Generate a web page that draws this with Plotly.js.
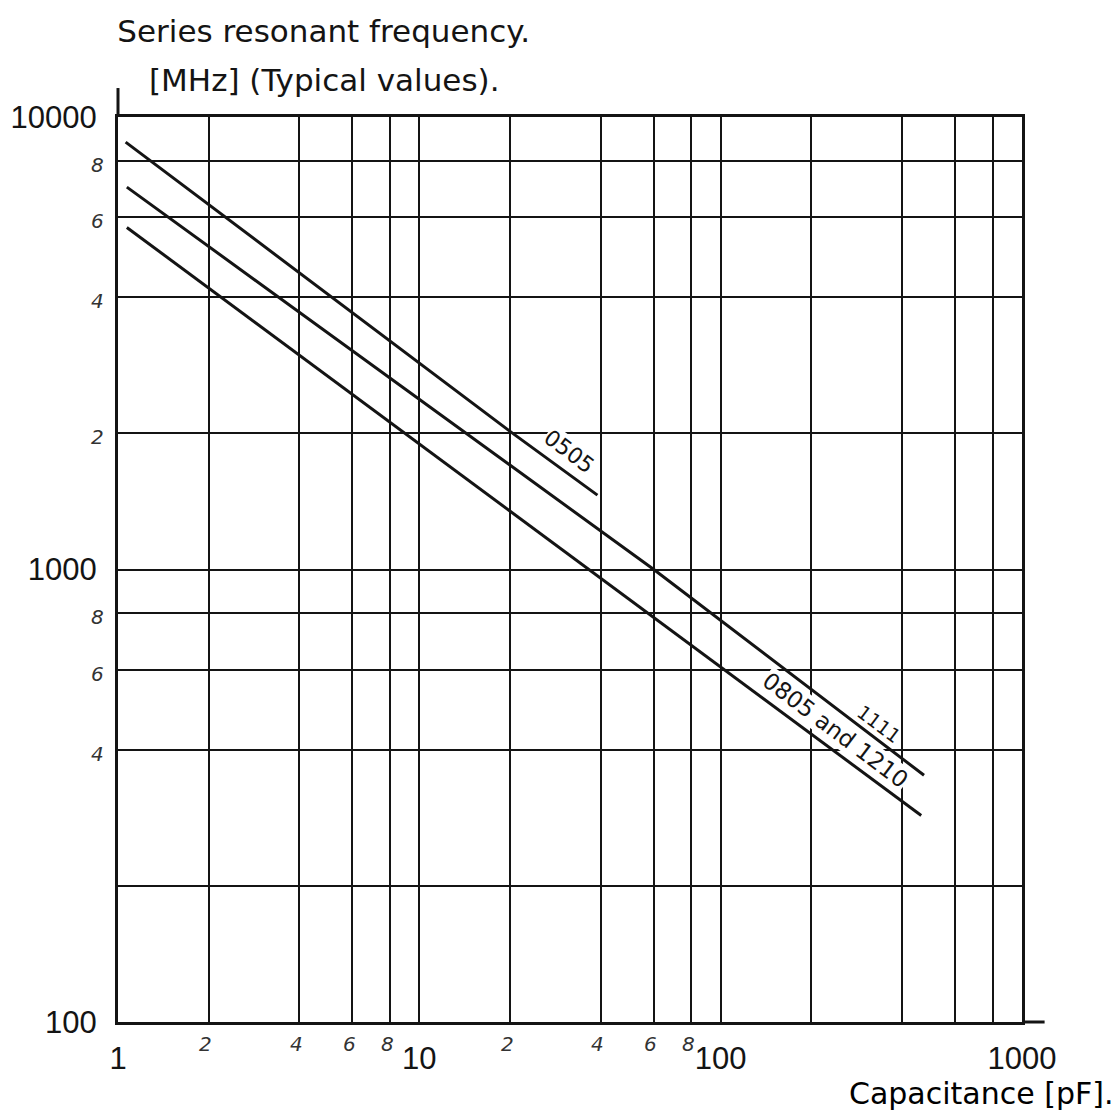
<!DOCTYPE html>
<html>
<head>
<meta charset="utf-8">
<script src="https://cdn.plot.ly/plotly-3.0.1.min.js"></script>
<style>html,body{margin:0;padding:0;background:#fff;}#chart{width:1120px;height:1110px;}</style>
</head>
<body>
<div id="chart"></div>
<script>
// ---- data ----
const seriesNames = ['0505', '1111', '0805 and 1210'];
const cap0505 = [1.06, 20, 39];
const srf0505 = [8800, 2020, 1460];
const cap1111 = [1.07, 60, 473];
const srf1111 = [7000, 1000, 351];
const cap0805 = [1.07, 40, 463];
const srf0805 = [5700, 955, 286];

// ---- axes ----
const xGridVals = [1, 2, 4, 6, 8, 10, 20, 40, 60, 80, 100, 200, 400, 600, 800, 1000];
const xMajorVals = [1, 10, 100, 1000];
const xMajorText = ['1', '10', '100', '1000'];
const xMinorVals = [2, 4, 6, 8, 20, 40, 60, 80];
const xMinorText = ['2', '4', '6', '8', '2', '4', '6', '8'];

const yGridVals = [100, 200, 400, 600, 800, 1000, 2000, 4000, 6000, 8000, 10000];
const yMajorVals = [100, 1000, 10000];
const yMajorText = ['100', '1000', '10000'];
const yMinorVals = [8000, 6000, 4000, 2000, 800, 600, 400];
const yMinorText = ['8', '6', '4', '2', '8', '6', '4'];

const titleLine1 = 'Series resonant frequency.';
const titleLine2 = '[MHz] (Typical values).';
const xTitle = 'Capacitance [pF].';

const ink = '#141414';
const stencil = 'DejaVu Sans, sans-serif';
const numFont = 'Liberation Sans, Arial, sans-serif';

function tickText(grid, majors, labels) {
  return grid.map(v => { const i = majors.indexOf(v); return i >= 0 ? labels[i] : ''; });
}

const lineStyle = {color: ink, width: 3};
const traces = [
  {x: cap0505, y: srf0505, name: seriesNames[0], mode: 'lines', line: lineStyle},
  {x: cap1111, y: srf1111, name: seriesNames[1], mode: 'lines', line: lineStyle},
  {x: cap0805, y: srf0805, name: seriesNames[2], mode: 'lines', line: lineStyle}
];

const annotations = [];
// handwritten minor labels
xMinorVals.forEach((v, i) => annotations.push({
  x: Math.log10(v), xref: 'x', y: -0.024, yref: 'paper', text: xMinorText[i], showarrow: false,
  xanchor: 'center', yanchor: 'middle', xshift: -3,
  font: {family: stencil, size: 20, color: '#333', style: 'italic'}
}));
yMinorVals.forEach((v, i) => annotations.push({
  x: -0.023, xref: 'paper', y: Math.log10(v), yref: 'y', text: yMinorText[i], showarrow: false,
  xanchor: 'center', yanchor: 'middle', yshift: -4,
  font: {family: stencil, size: 20, color: '#333', style: 'italic'}
}));
// title line 2 and x title
annotations.push({
  x: 0.228, xref: 'paper', y: 1.041, yref: 'paper', text: titleLine2, showarrow: false,
  xanchor: 'center', yanchor: 'middle', font: {family: stencil, size: 31, color: ink}
});
annotations.push({
  x: 1.103, xref: 'paper', y: -0.079, yref: 'paper', text: xTitle, showarrow: false,
  xanchor: 'right', yanchor: 'middle', font: {family: stencil, size: 30, color: '#000'}
});
// series labels along the lines
annotations.push({
  x: Math.log10(31.4), y: Math.log10(1820), xref: 'x', yref: 'y', text: seriesNames[0],
  showarrow: false, textangle: 37, bgcolor: '#fff', borderpad: 0,
  font: {family: stencil, size: 22, color: ink}
});
annotations.push({
  x: Math.log10(336), y: Math.log10(456), xref: 'x', yref: 'y', text: seriesNames[1],
  showarrow: false, textangle: 37,
  font: {family: stencil, size: 19, color: ink}
});
annotations.push({
  x: Math.log10(240), y: Math.log10(442), xref: 'x', yref: 'y', text: seriesNames[2],
  showarrow: false, textangle: 37, bgcolor: '#fff', borderpad: 0,
  font: {family: stencil, size: 23, color: ink}
});

const layout = {
  width: 1120, height: 1110,
  margin: {l: 118, r: 98, t: 117, b: 88, pad: 0},
  paper_bgcolor: '#fff', plot_bgcolor: '#fff',
  showlegend: false,
  title: {
    text: titleLine1, x: 0.289, xref: 'container', xanchor: 'center',
    y: 0.972, yref: 'container', yanchor: 'middle',
    font: {family: stencil, size: 31, color: ink}
  },
  xaxis: {
    type: 'log', range: [0, 3], tickmode: 'array',
    tickvals: xGridVals, ticktext: tickText(xGridVals, xMajorVals, xMajorText),
    showgrid: true, gridcolor: ink, gridwidth: 2,
    showline: true, linecolor: ink, linewidth: 3, mirror: true,
    ticks: '', ticklabelstandoff: 7,
    tickfont: {family: numFont, size: 31, color: ink}
  },
  yaxis: {
    type: 'log', range: [2, 4], tickmode: 'array',
    tickvals: yGridVals, ticktext: tickText(yGridVals, yMajorVals, yMajorText),
    showgrid: true, gridcolor: ink, gridwidth: 2,
    showline: true, linecolor: ink, linewidth: 3, mirror: true,
    ticks: '', ticklabelstandoff: 12,
    tickfont: {family: numFont, size: 31, color: ink}
  },
  shapes: [
    {type: 'line', xref: 'paper', yref: 'paper', x0: 0, x1: 0, y0: 1, y1: 1.032,
     line: {color: ink, width: 3}},
    {type: 'line', xref: 'paper', yref: 'paper', x0: 1, x1: 1.025, y0: 0, y1: 0,
     line: {color: ink, width: 3}}
  ],
  annotations: annotations
};

Plotly.newPlot('chart', traces, layout, {displayModeBar: false, staticPlot: true});
</script>
</body>
</html>
